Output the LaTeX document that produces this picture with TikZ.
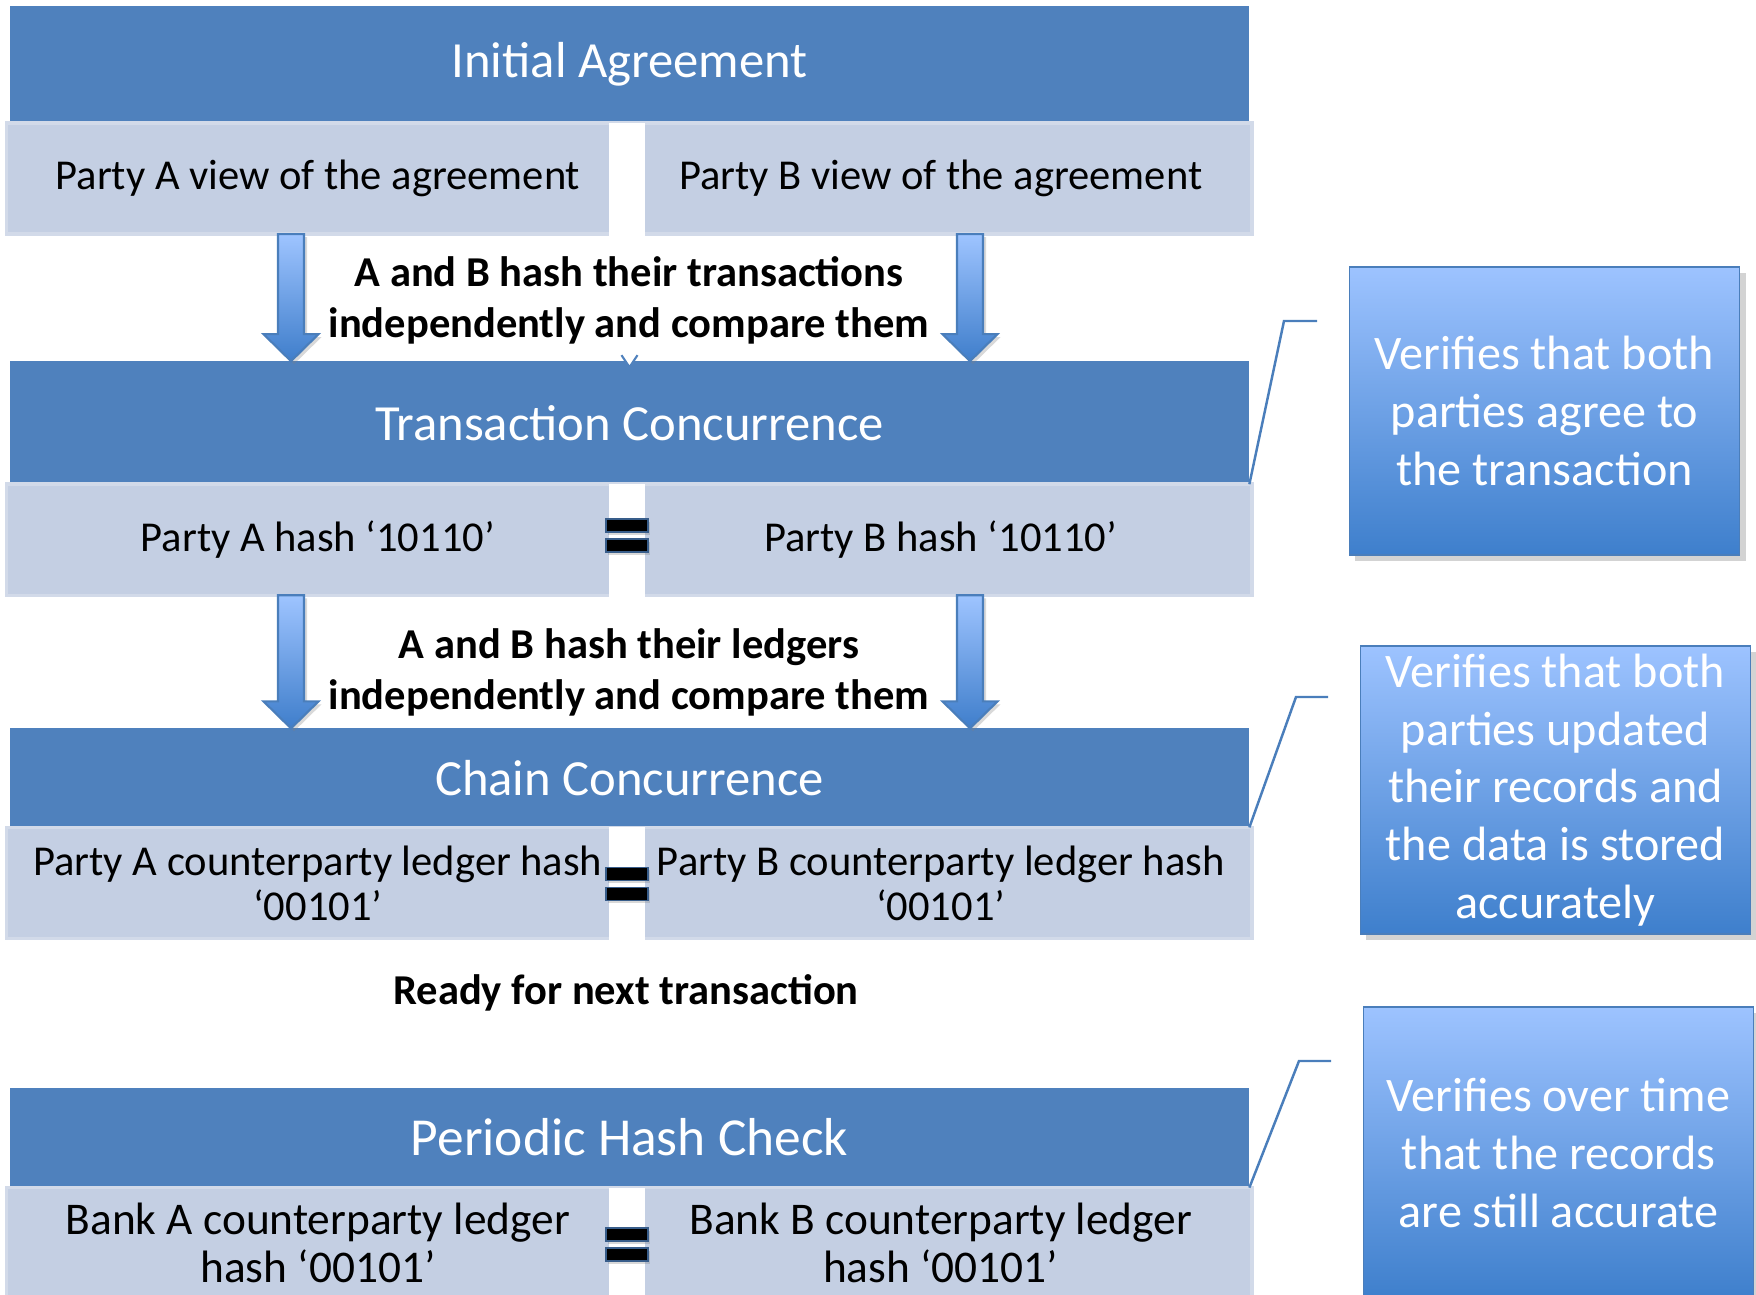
\documentclass[tikz,border=0pt]{standalone}
\usepackage{fontspec}
\setmainfont{Carlito}
\usepackage{tikz}
\usetikzlibrary{positioning,calc,shadows}

\definecolor{barblue}{HTML}{4F81BD}
\definecolor{cellfill}{HTML}{C4CFE3}
\definecolor{celledge}{HTML}{D2DAE9}
\definecolor{eqedge}{HTML}{385D8A}
\definecolor{arrowtop}{HTML}{9EC4FF}
\definecolor{arrowbot}{HTML}{3F7ECB}
\definecolor{arrowedge}{HTML}{4A7EBB}
\definecolor{notetop}{HTML}{9DC3FF}
\definecolor{notebot}{HTML}{3E7FCC}

% block arrow: #1 = x coordinate, #2 = from node, #3 = to node
\newcommand{\hasharrow}[3]{%
  \path[blockarr] ($(#1 |- #2.south)+(-13,0)$) -- ($(#1 |- #2.south)+(13,0)$)
    -- ($(#1 |- #3.north)+(13,-27)$) -- ($(#1 |- #3.north)+(27.5,-27)$)
    -- (#1 |- #3.north) -- ($(#1 |- #3.north)+(-27.5,-27)$)
    -- ($(#1 |- #3.north)+(-13,-27)$) -- cycle;}

\begin{document}
\begin{tikzpicture}[
    x=0.01cm, y=-0.01cm,
    node distance=0pt,
    bar/.style={rectangle, fill=barblue, text=white, minimum width=12.39cm, inner sep=0pt, outer sep=0pt, font=\fontsize{14.4}{17}\selectfont},
    cell/.style={rectangle, fill=cellfill, draw=celledge, line width=1pt, minimum width=6.22cm, minimum height=1.11cm, inner sep=0pt, outer sep=0pt, align=center, font=\fontsize{12.1}{12.8}\selectfont},
    gap/.style={rectangle, fill=white, minimum width=0.36cm, minimum height=1.13cm, inner sep=0pt, outer sep=0pt},
    eqbar/.style={rectangle, fill=black, draw=eqedge, line width=0.5pt, minimum width=0.42cm, minimum height=0.13cm, inner sep=0pt, drop shadow={opacity=0.3, shadow xshift=0.02cm, shadow yshift=-0.03cm}},
    flow/.style={align=center, inner sep=0pt, font=\fontsize{12.1}{14.5}\selectfont\bfseries},
    note/.style={rectangle, draw=arrowedge, line width=0.5pt, top color=notetop, bottom color=notebot, text=white, minimum width=3.9cm, minimum height=2.88cm, inner sep=0pt, align=center, font=\fontsize{13.7}{16.4}\selectfont, drop shadow={opacity=0.35, shadow xshift=0.06cm, shadow yshift=-0.06cm}},
    blockarr/.style={draw=arrowedge, line width=0.6pt, top color=arrowtop, bottom color=arrowbot, drop shadow={opacity=0.3, shadow xshift=0.03cm, shadow yshift=-0.03cm}},
    callline/.style={draw=arrowedge, line width=0.7pt},
]
\clip (0,0) rectangle (1756,1295);

% Initial agreement
\node[bar, minimum height=1.17cm] (ia) at (629.5,64.5) {Initial Agreement};
\node[cell, below=0pt of ia, xshift=-3.115cm] (pa1) {Party A view of the agreement};
\node[cell, below=0pt of ia, xshift=3.11cm] (pb1) {Party B view of the agreement};
\node[gap, below=0pt of ia, xshift=-0.025cm] (g1) {};

% Transaction concurrence
\node[bar, minimum height=1.23cm, below=2.38cm of ia] (tc) {Transaction Concurrence};
\node[cell, below=0pt of tc, xshift=-3.115cm] (pa2) {Party A hash ‘10110’};
\node[cell, below=0pt of tc, xshift=3.11cm] (pb2) {Party B hash ‘10110’};
\node[gap, below=0pt of tc, xshift=-0.025cm] (g2) {};
\node[eqbar] (eq2a) at ($(g2)+(0,-15)$) {};
\node[eqbar] (eq2b) at ($(g2)+(0,5)$) {};

% Chain concurrence
\node[bar, minimum height=0.99cm, below=2.44cm of tc] (cc) {Chain Concurrence};
\node[cell, below=0pt of cc, xshift=-3.115cm] (pa3) {Party A counterparty ledger hash\\‘00101’};
\node[cell, below=0pt of cc, xshift=3.11cm] (pb3) {Party B counterparty ledger hash\\‘00101’};
\node[gap, below=0pt of cc, xshift=-0.025cm] (g3) {};
\node[eqbar] (eq3a) at ($(g3)+(0,-10)$) {};
\node[eqbar] (eq3b) at ($(g3)+(0,10)$) {};

% Periodic hash check
\node[bar, minimum height=1.0cm, font=\fontsize{15.2}{18}\selectfont, below=2.6cm of cc] (ph) {Periodic Hash Check};
\node[cell, font=\fontsize{12.9}{13.7}\selectfont, below=0pt of ph, xshift=-3.115cm] (ba4) {Bank A counterparty ledger\\hash ‘00101’};
\node[cell, font=\fontsize{12.9}{13.7}\selectfont, below=0pt of ph, xshift=3.11cm] (bb4) {Bank B counterparty ledger\\hash ‘00101’};
\node[gap, below=0pt of ph, xshift=-0.025cm] (g4) {};
\node[eqbar] (eq4a) at ($(g4)+(0,-10)$) {};
\node[eqbar] (eq4b) at ($(g4)+(0,10)$) {};

% Step texts
\node[flow] (t1) at (629,300) {A and B hash their transactions\\independently and compare them};
\node[flow] (t2) at (629,672) {A and B hash their ledgers\\independently and compare them};
\node[flow] (t3) at (626,993) {Ready for next transaction};

% Arrows
\coordinate (la) at (291,0);
\coordinate (rb) at (970,0);
\hasharrow{la}{pa1}{tc}
\hasharrow{rb}{pb1}{tc}
\hasharrow{la}{pa2}{cc}
\hasharrow{rb}{pb2}{cc}
\fill[white] ($(tc.north)+(-8,-6)$) -- ($(tc.north)+(8,-6)$) -- ($(tc.north)+(0,6)$) -- cycle;
\draw[barblue, line width=0.6pt] ($(tc.north)+(-8,-6)$) -- ($(tc.north)+(0,6)$) -- ($(tc.north)+(8,-6)$);

% Notes
\node[note] (n1) at (1544.5,411) {Verifies that both\\parties agree to\\the transaction};
\node[note] (n2) at (1555.5,790) {Verifies that both\\parties updated\\their records and\\the data is stored\\accurately};
\node[note, minimum height=2.92cm] (n3) at (1558.5,1153) {Verifies over time\\that the records\\are still accurate};

% Callout lines
\coordinate (k1) at (1284,321);
\coordinate (k1e) at (1317,321);
\coordinate (k2) at (1296,697);
\coordinate (k2e) at (1328,697);
\coordinate (k3) at (1299,1061);
\coordinate (k3e) at (1331,1061);
\draw[callline] (tc.south east) -- (k1) -- (k1e);
\draw[callline] (cc.south east) -- (k2) -- (k2e);
\draw[callline] (ph.south east) -- (k3) -- (k3e);
\end{tikzpicture}
\end{document}
